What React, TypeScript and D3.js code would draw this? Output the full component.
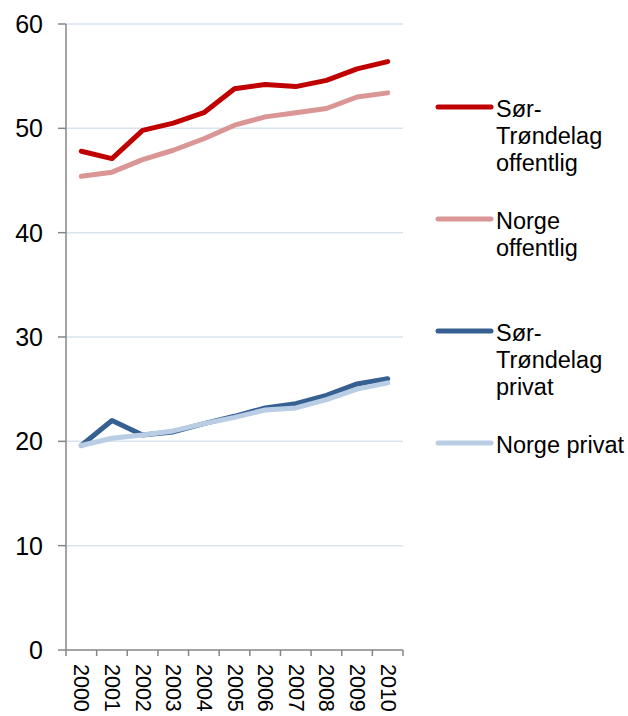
import React from "react";
import * as d3 from "d3";

const years = ["2000","2001","2002","2003","2004","2005","2006","2007","2008","2009","2010"];
const stOffentlig = [47.8, 47.1, 49.8, 50.5, 51.5, 53.8, 54.2, 54.0, 54.6, 55.7, 56.4];
const norgeOffentlig = [45.4, 45.8, 47.0, 47.9, 49.0, 50.3, 51.1, 51.5, 51.9, 53.0, 53.4];
const stPrivat = [19.6, 22.0, 20.6, 20.9, 21.7, 22.4, 23.2, 23.6, 24.4, 25.5, 26.0];
const norgePrivat = [19.6, 20.3, 20.6, 21.0, 21.7, 22.3, 23.0, 23.2, 24.0, 25.0, 25.6];
const yTicks = [0, 10, 20, 30, 40, 50, 60];

const series = [
  { name: ["Sør-", "Trøndelag", "offentlig"], values: stOffentlig, color: "#C00000", legendY: 107 },
  { name: ["Norge", "offentlig"], values: norgeOffentlig, color: "#DA9694", legendY: 219 },
  { name: ["Sør-", "Trøndelag", "privat"], values: stPrivat, color: "#376092", legendY: 331 },
  { name: ["Norge privat"], values: norgePrivat, color: "#B9CDE5", legendY: 443 },
];
const drawOrder = [1, 0, 2, 3];

export default function App() {
  const W = 628, H = 716;
  const x = d3.scaleBand<string>().domain(years).range([66, 403]).padding(0);
  const y = d3.scaleLinear().domain([0, 60]).range([650, 24]);
  const line = d3.line<number>()
    .x((_, i) => (x(years[i]) as number) + x.bandwidth() / 2)
    .y((v) => y(v));
  const font = "'Liberation Sans', Arial, sans-serif";
  const axisColor = "#868686";
  const tickEdges = years.map((yr) => x(yr) as number).concat([403]);
  return (
    <svg width={W} height={H} style={{ position: "absolute", left: 0, top: 0, background: "#fff" }} fontFamily={font}>
      {yTicks.filter((t) => t > 0).map((t) => (
        <line key={"g" + t} x1={66} x2={403} y1={y(t)} y2={y(t)} stroke="#D9E4F1" strokeWidth={1.5} />
      ))}
      {yTicks.map((t) => (
        <g key={"t" + t}>
          <line x1={58} x2={66} y1={y(t)} y2={y(t)} stroke={axisColor} strokeWidth={1.5} />
          <text x={43} y={y(t)} textAnchor="end" dominantBaseline="central" fontSize={25} fill="#000">{t}</text>
        </g>
      ))}
      <line x1={66} x2={66} y1={24} y2={650} stroke={axisColor} strokeWidth={1.5} />
      <line x1={66} x2={403} y1={650} y2={650} stroke={axisColor} strokeWidth={1.5} />
      {tickEdges.map((tx, i) => (
        <line key={"xt" + i} x1={tx} x2={tx} y1={650} y2={656} stroke={axisColor} strokeWidth={1.5} />
      ))}
      {years.map((yr) => {
        const cx = (x(yr) as number) + x.bandwidth() / 2;
        return (
          <text key={yr} transform={`translate(${cx},664) rotate(90)`} textAnchor="start" dominantBaseline="central" fontSize={21.5} fill="#000">{yr}</text>
        );
      })}
      {drawOrder.map((i) => (
        <path key={"s" + i} d={line(series[i].values) || ""} fill="none" stroke={series[i].color} strokeWidth={5} strokeLinejoin="round" strokeLinecap="round" />
      ))}
      {series.map((s, i) => (
        <g key={"l" + i}>
          <line x1={438} x2={491} y1={s.legendY} y2={s.legendY} stroke={s.color} strokeWidth={5} strokeLinecap="round" />
          {s.name.map((n, j) => (
            <text key={j} x={496} y={s.legendY + 9.5 + j * 27} fontSize={23.5} fill="#000">{n}</text>
          ))}
        </g>
      ))}
    </svg>
  );
}
